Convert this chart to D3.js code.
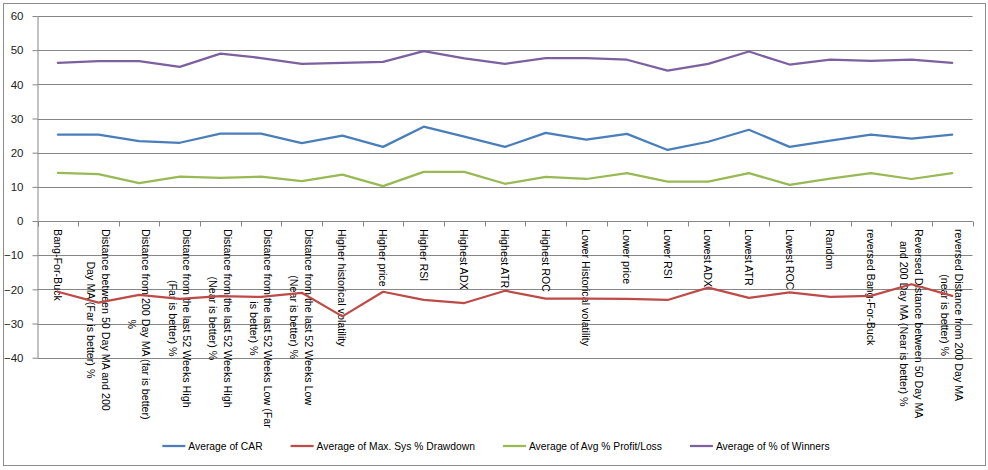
<!DOCTYPE html>
<html><head><meta charset="utf-8">
<script src="https://cdn.jsdelivr.net/npm/d3@7"></script>
<style>
body{margin:0;background:#fff}
svg{display:block}
text{font-family:"Liberation Sans",Arial,sans-serif}
</style></head>
<body><svg id="c" width="988" height="470"></svg>
<script>
const categoryLines = [
  ["Bang-For-Buck"],
  ["Distance between 50 Day MA and 200", "Day MA (Far is better) %"],
  ["Distance from 200 Day MA (far is better)", "%"],
  ["Distance from the last 52 Weeks High", "(Far is better) %"],
  ["Distance from the last 52 Weeks High", "(Near is better) %"],
  ["Distance from the last 52 Weeks Low (Far", "is better) %"],
  ["Distance from the last 52 Weeks Low", "(Near is better) %"],
  ["Higher historical volatility"],
  ["Higher price"],
  ["Higher RSI"],
  ["Highest ADX"],
  ["Highest ATR"],
  ["Highest ROC"],
  ["Lower Historical volatility"],
  ["Lower price"],
  ["Lower RSI"],
  ["Lowest ADX"],
  ["Lowest ATR"],
  ["Lowest ROC"],
  ["Random"],
  ["reversed Bang-For-Buck"],
  ["Reversed Distance between 50 Day MA", "and 200 Day MA (Near is better) %"],
  ["reversed Distance from 200 Day MA", "(near is better) %"]
];
const categories = categoryLines.map(l => l.join(" "));

const carValues        = [25.3,25.3,23.4,22.9,25.6,25.6,22.8,25.0,21.7,27.6,24.7,21.7,25.8,23.8,25.5,20.8,23.2,26.7,21.7,23.5,25.3,24.1,25.3];
const drawdownValues   = [-20.7,-23.9,-21.6,-22.8,-22.0,-22.2,-21.0,-27.9,-20.7,-23.1,-24.0,-20.4,-22.7,-22.7,-22.8,-23.1,-19.5,-22.5,-20.9,-22.2,-21.9,-18.5,-21.9];
const profitLossValues = [14.1,13.7,11.1,13.0,12.6,13.0,11.7,13.6,10.2,14.4,14.4,10.9,12.9,12.3,14.0,11.5,11.5,14.0,10.6,12.4,14.0,12.3,14.0];
const winnersValues    = [46.3,46.8,46.8,45.1,49.0,47.7,46.0,46.3,46.6,49.7,47.6,46.0,47.7,47.7,47.2,44.0,46.0,49.6,45.8,47.2,46.9,47.2,46.3];

const seriesNames  = ["Average of CAR", "Average of Max. Sys % Drawdown", "Average of Avg % Profit/Loss", "Average of % of Winners"];
const seriesColors = ["#4A7EBB", "#BE4B48", "#98B954", "#7D60A0"];
const yTicks = [-40,-30,-20,-10,0,10,20,30,40,50,60];

(function(){
const series = [carValues, drawdownValues, profitLossValues, winnersValues].map((v,i)=>({name:seriesNames[i], color:seriesColors[i], values:v}));

const svg = d3.select("#c");
const pLeft = 37.5, pRight = 972.5, pTop = 16, pBottom = 357.7;

const x = d3.scaleBand().domain(categories).range([pLeft, pRight]).padding(0);
const y = d3.scaleLinear().domain([-40, 60]).range([pBottom, pTop]);

// chart frame
svg.append("rect").attr("x",3.5).attr("y",3.5).attr("width",982).attr("height",462)
  .attr("fill","#fff").attr("stroke","#8c8c8c").attr("stroke-width",1);

// gridlines
svg.append("g").selectAll("line").data(yTicks).join("line")
  .attr("x1", pLeft).attr("x2", pRight)
  .attr("y1", d => Math.round(y(d))+0.5).attr("y2", d => Math.round(y(d))+0.5)
  .attr("stroke", "#868686").attr("stroke-width", 1);

// y axis
const yAxis = svg.append("g").attr("transform", `translate(${pLeft},0)`)
  .call(d3.axisLeft(y).tickValues(yTicks).tickSize(5).tickSizeOuter(0).tickPadding(9));
yAxis.select(".domain").attr("stroke","#868686");
yAxis.selectAll(".tick line").attr("stroke","#868686");
yAxis.selectAll(".tick text").attr("fill","#222").style("font-size","11.5px").style("font-family","Liberation Sans, Arial, sans-serif");

// x axis line and category ticks
const y0 = Math.round(y(0)) + 0.5;
svg.append("line").attr("x1", pLeft).attr("x2", pRight).attr("y1", y0).attr("y2", y0)
  .attr("stroke","#868686");
const bounds = categories.map(c => x(c)).concat([x.range()[1]]);
svg.append("g").selectAll("line").data(bounds).join("line")
  .attr("x1", d => Math.round(d)+0.5).attr("x2", d => Math.round(d)+0.5)
  .attr("y1", y0).attr("y2", y0 + 5).attr("stroke","#868686");

// category labels
const labelTop = 229, lineH = 14.5;
const lg = svg.append("g");
categoryLines.forEach((lines, i) => {
  const cx = x(categories[i]) + x.bandwidth()/2;
  const g = lg.append("g").attr("transform", `translate(${cx},${labelTop}) rotate(90)`);
  const texts = lines.map((t, j) => g.append("text")
    .attr("y", (j - (lines.length-1)/2) * lineH)
    .attr("dominant-baseline","central")
    .attr("text-anchor","middle")
    .attr("fill","#000")
    .style("font-size","10.7px")
    .text(t));
  const maxL = d3.max(texts, t => t.node().getComputedTextLength());
  texts.forEach(t => t.attr("x", maxL/2));
});

// lines
const line = d3.line().x((d,i) => x(categories[i]) + x.bandwidth()/2).y(d => y(d));
svg.append("g").selectAll("path").data(series).join("path")
  .attr("d", d => line(d.values))
  .attr("fill","none").attr("stroke", d => d.color)
  .attr("stroke-width", 2.25).attr("stroke-linejoin","round").attr("stroke-linecap","round");

// legend
const legY = 446, swW = 23, gapSw = 3, gapItem = 28, fs = "10.3px";
const leg = svg.append("g");
const items = series.map(s => {
  const g = leg.append("g");
  g.append("line").attr("x1",0).attr("x2",swW).attr("y1",legY).attr("y2",legY)
    .attr("stroke", s.color).attr("stroke-width", 2.25);
  const t = g.append("text").attr("x", swW + gapSw).attr("y", legY)
    .attr("dominant-baseline","central").attr("fill","#000").style("font-size", fs).text(s.name);
  return {g, w: swW + gapSw + t.node().getComputedTextLength()};
});
const total = d3.sum(items, d => d.w) + gapItem * (items.length - 1);
let cur = 496 - total/2;
items.forEach(it => { it.g.attr("transform", `translate(${cur},0)`); cur += it.w + gapItem; });
})();
</script></body></html>
